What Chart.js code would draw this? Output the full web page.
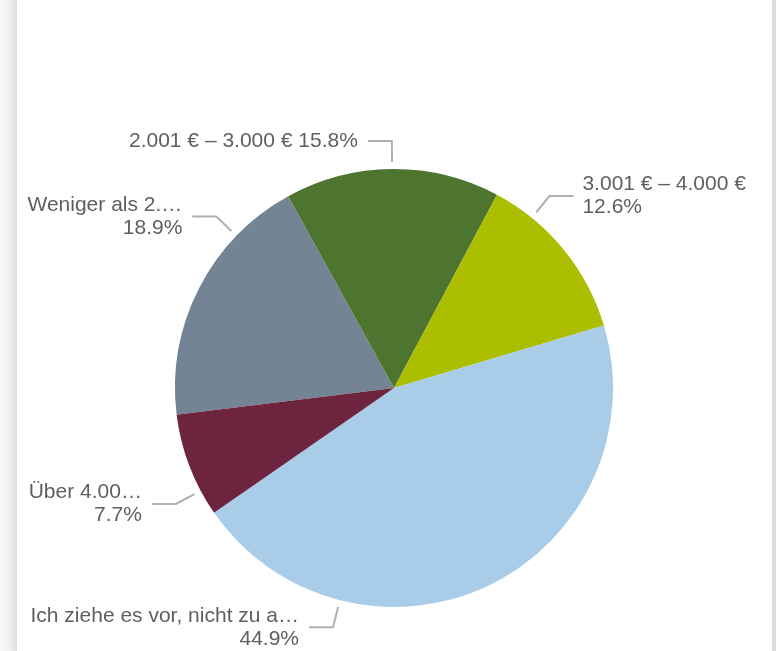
<!DOCTYPE html>
<html>
<head>
<meta charset="utf-8">
<script src="https://cdn.jsdelivr.net/npm/chart.js@4/dist/chart.umd.min.js"></script>
<style>
  html, body { margin: 0; padding: 0; background: #ffffff; }
  body { width: 776px; height: 651px; position: relative; overflow: hidden; }
  #leftShade { position: absolute; left: 0; top: 0; width: 17px; height: 651px;
    background: linear-gradient(to right, #f8f8f8 0%, #f0f0f0 60%, #dcdcdc 100%); }
  #rightShade { position: absolute; left: 772px; top: 0; width: 4px; height: 651px; background: #dedede; }
  #wrap { position: absolute; left: 0; top: 0; width: 776px; height: 651px; }
</style>
</head>
<body>
<div id="leftShade"></div>
<div id="rightShade"></div>
<div id="wrap"><canvas id="c" width="776" height="651"></canvas></div>
<script>
// ---- data ----
const categories = [
  "Weniger als 2.…",
  "2.001 € – 3.000 €",
  "3.001 € – 4.000 €",
  "Ich ziehe es vor, nicht zu a…",
  "Über 4.00…"
];
const percentages = [18.9, 15.8, 12.6, 44.9, 7.7];
const sliceColors = ["#738494", "#4e7530", "#abbf00", "#a9cce8", "#6d253f"];

// label layout (connector angles in degrees clockwise from 12 o'clock; wrap = name and % on two lines)
const connectorAngles = [314, 359.5, 39, 194.3, 242];
const wrapLabel = [true, false, true, true, true];

const leaderPlugin = {
  id: 'leaders',
  afterDatasetsDraw(chart) {
    const ctx = chart.ctx;
    const meta = chart.getDatasetMeta(0);
    const arc0 = meta.data[0];
    const cx = arc0.x, cy = arc0.y, r = arc0.outerRadius;
    ctx.save();
    ctx.font = '21px "Liberation Sans", Arial, sans-serif';
    ctx.textBaseline = 'middle';
    const lineH = 23;
    categories.forEach((name, i) => {
      const th = connectorAngles[i] * Math.PI / 180;
      const sx = cx + (r + 7) * Math.sin(th), sy = cy - (r + 7) * Math.cos(th);
      const ex = cx + (r + 28) * Math.sin(th), ey = cy - (r + 28) * Math.cos(th);
      const right = Math.sin(th) > 0.001;
      const hx = ex + (right ? 24 : -24);
      ctx.strokeStyle = '#b0b0b0';
      ctx.lineWidth = 2;
      ctx.beginPath();
      ctx.moveTo(sx, sy);
      ctx.lineTo(ex, ey);
      ctx.lineTo(hx, ey);
      ctx.stroke();
      ctx.fillStyle = '#5f5f5f';
      ctx.textAlign = right ? 'left' : 'right';
      const tx = hx + (right ? 9 : -10);
      const pct = percentages[i].toFixed(1) + '%';
      if (wrapLabel[i]) {
        ctx.fillText(name, tx, ey - lineH / 2);
        ctx.fillText(pct, tx, ey + lineH / 2);
      } else {
        ctx.fillText(name + ' ' + pct, tx, ey);
      }
    });
    ctx.restore();
  }
};

new Chart(document.getElementById('c'), {
  type: 'pie',
  data: {
    labels: categories,
    datasets: [{
      data: percentages,
      backgroundColor: sliceColors,
      borderWidth: 0,
      hoverOffset: 0
    }]
  },
  options: {
    responsive: false,
    animation: false,
    rotation: 263,
    radius: 219,
    layout: { padding: { left: 175, right: 163, top: 169, bottom: 44 } },
    plugins: {
      legend: { display: false },
      tooltip: { enabled: false },
      title: { display: false }
    },
    events: []
  },
  plugins: [leaderPlugin]
});
</script>
</body>
</html>
